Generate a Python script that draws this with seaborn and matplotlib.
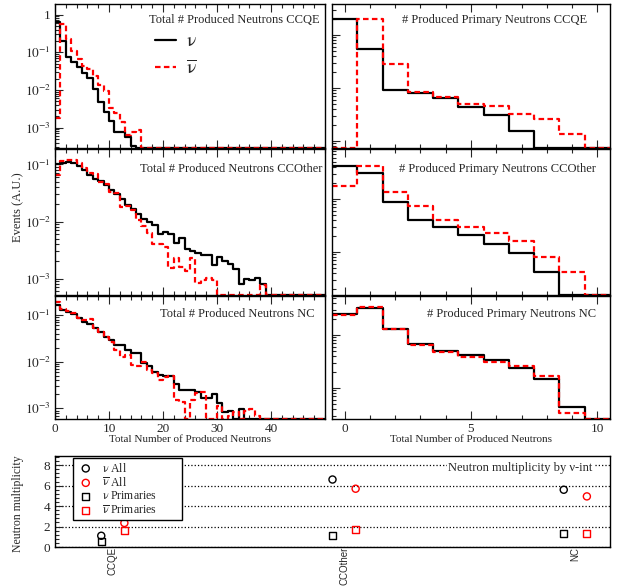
import matplotlib

matplotlib.use("Agg")
import matplotlib.pyplot as plt
import numpy as np
import pandas as pd
import seaborn as sns
from matplotlib.lines import Line2D
from matplotlib.ticker import FuncFormatter, LogLocator, MultipleLocator, NullFormatter

# total number of produced neutrons, unit bins from 0 to 50 (fraction of events)
total_ccqe_nu = [0.63, 0.20, 0.075, 0.055, 0.040, 0.028, 0.0205, 0.0106, 0.0047, 0.0026,
                 0.0015, 7.5e-4, 7.5e-4, 5.7e-4, 3.3e-4] + [0] * 35
total_ccqe_nubar = [0.0018, 0.55, 0.225, 0.11, 0.068, 0.042, 0.036, 0.023, 0.0136, 0.0093,
                    0.0034, 0.0024, 0.00145, 6.5e-4, 7.7e-4, 8.4e-4] + [0] * 34
total_ccother_nu = [0.103, 0.108, 0.110, 0.108, 0.093, 0.081, 0.065, 0.0564, 0.051, 0.043,
                    0.035, 0.030, 0.025, 0.0192, 0.0168, 0.0137, 0.0112, 0.0098, 0.0086, 0.0060,
                    0.0066, 0.0060, 0.0042, 0.0052, 0.0033, 0.0031, 0.0028, 0.0026, 0.0026, 0.0017,
                    0.0024, 0.0020, 0.0018, 0.00149, 8.1e-4, 1.0e-3, 9.3e-4, 1.03e-3, 7.9e-4] + [0] * 11
total_ccother_nubar = [0.065, 0.115, 0.118, 0.121, 0.106, 0.088, 0.071, 0.069, 0.049, 0.046,
                       0.033, 0.031, 0.018, 0.0185, 0.0158, 0.0105, 0.0083, 0.0062, 0.0040, 0.0040,
                       0.0036, 0.0015, 0.0023, 0.0016, 0.00134, 0.0023, 8.5e-4, 9.6e-4, 1.03e-3, 9.6e-4,
                       0, 0, 0, 0, 0, 0, 0, 0, 7.6e-4] + [0] * 11
total_nc_nu = [0.164, 0.128, 0.114, 0.103, 0.088, 0.072, 0.064, 0.052, 0.043, 0.034,
               0.029, 0.023, 0.023, 0.0178, 0.0151, 0.0151, 0.0092, 0.0079, 0.0061, 0.0052,
               0.0050, 0.0050, 0.0033, 0.0025, 0.0025, 0.0025, 0.0022, 0.0017, 0.0017, 0.0020,
               0.00132, 8.5e-4, 8.9e-4, 0, 9.5e-4] + [0] * 15
total_nc_nubar = [0.187, 0.134, 0.122, 0.109, 0.088, 0.078, 0.082, 0.052, 0.043, 0.034,
                  0.027, 0.018, 0.0128, 0.0139, 0.0085, 0.0082, 0.0100, 0.0066, 0.0056, 0.0041,
                  0.0048, 0.0050, 0.0015, 0.0014, 0, 0.0015, 0.0021, 0.0022, 0, 0,
                  0.0011, 0, 7e-4, 8.5e-4, 0, 9e-4, 9.5e-4, 7e-4] + [0] * 12

# primary neutrons, integer bins 0..10
prim_ccqe_nu = [2.0, 0.54, 0.092, 0.082, 0.066, 0.043, 0.031, 0.0155, 0, 0, 0]
prim_ccqe_nubar = [0, 2.0, 0.28, 0.085, 0.069, 0.051, 0.046, 0.033, 0.0256, 0.0134, 0]
prim_ccother_nu = [0.42, 0.314, 0.087, 0.040, 0.029, 0.021, 0.0142, 0.0094, 0.0041, 0, 0]
prim_ccother_nubar = [0.179, 0.42, 0.134, 0.075, 0.040, 0.030, 0.0232, 0.0162, 0.0079, 0.0041, 0]
prim_nc_nu = [0.249, 0.328, 0.130, 0.068, 0.050, 0.042, 0.034, 0.024, 0.0146, 0.0043, 0]
prim_nc_nubar = [0.238, 0.333, 0.128, 0.065, 0.048, 0.039, 0.031, 0.026, 0.0171, 0.0034, 0]

# mean multiplicities per interaction mode
int_modes = ["CCQE", "CCOther", "NC"]
mean_all_nu = [1.1, 6.6, 5.6]
mean_all_nubar = [2.35, 5.7, 4.95]
mean_prim_nu = [0.58, 1.1, 1.35]
mean_prim_nubar = [1.6, 1.7, 1.35]

sns.set_style("ticks")
plt.rcParams["font.family"] = ["Liberation Serif", "DejaVu Serif"]
plt.rcParams["mathtext.fontset"] = "stix"
plt.rcParams["axes.edgecolor"] = "black"
plt.rcParams["axes.linewidth"] = 1.0

W, H = 623, 588
fig = plt.figure(figsize=(W / 100, H / 100), dpi=100)

NU_LBL = r"$\mathrm{\nu}$"
NUBAR_LBL = r"$\overline{\mathrm{\nu}}$"
DASH = (0, (2.5, 1.5))


def px_axes(x0, y0, x1, y1):
    return fig.add_axes([x0 / W, 1 - y1 / H, (x1 - x0) / W, (y1 - y0) / H])


def decade_label(v, pos):
    k = int(round(np.log10(v)))
    return "1" if k == 0 else rf"$10^{{{k}}}$"


def draw_hist(ax, edges, nu, nubar, ylim, title, title_xy, show_ylabels, ticks, minor):
    centers = 0.5 * (edges[:-1] + edges[1:])
    for vals, color, ls in ((nu, "black", "-"), (nubar, "red", DASH)):
        # empty bins drawn on the floor of the log axis, as ROOT does
        df = pd.DataFrame({"n": centers, "w": np.clip(np.asarray(vals, float), ylim[0], None)})
        sns.histplot(data=df, x="n", weights="w", bins=list(edges), element="step", fill=False,
                     color=color, linestyle=ls, linewidth=1.6, ax=ax)
    ax.set_yscale("log")
    ax.set_xlim(edges[0], edges[-1])
    ax.set_ylim(*ylim)
    ax.set_xlabel("")
    ax.set_ylabel("")
    ax.set_xticks(ticks)
    ax.xaxis.set_minor_locator(MultipleLocator(minor))
    ax.yaxis.set_major_locator(LogLocator(base=10))
    ax.yaxis.set_minor_locator(LogLocator(base=10, subs=np.arange(2, 10)))
    ax.yaxis.set_major_formatter(FuncFormatter(decade_label))
    ax.yaxis.set_minor_formatter(NullFormatter())
    ax.tick_params(which="both", direction="in", top=True, labelsize=9.5, pad=3)
    ax.tick_params(which="major", length=6, width=0.8)
    ax.tick_params(which="minor", length=3, width=0.8)
    if not show_ylabels:
        ax.tick_params(labelleft=False)
    ax.text(title_xy[0], title_xy[1], title, transform=ax.transAxes, ha="right",
            va="center", fontsize=9)


edges_total = np.arange(0, 51)
edges_prim = np.arange(-0.5, 11.0)

rows = [
    (4, 148, "CCQE", total_ccqe_nu, total_ccqe_nubar, prim_ccqe_nu, prim_ccqe_nubar,
     (2.88e-4, 1.9), (0.00738, 3.85), 0.889),
    (149, 295, "CCOther", total_ccother_nu, total_ccother_nubar, prim_ccother_nu,
     prim_ccother_nubar, (5.14e-4, 0.187), (0.00154, 0.878), 0.863),
    (296, 419, "NC", total_nc_nu, total_nc_nubar, prim_nc_nu, prim_nc_nubar,
     (5.93e-4, 0.255), (0.0026, 0.544), 0.85),
]
left_title_x = [0.981, 0.989, 0.963]
right_title_x = [0.917, 0.95, 0.95]

axes_left = []
for i, (y0, y1, mode, t_nu, t_nubar, p_nu, p_nubar, ylim_t, ylim_p, ty) in enumerate(rows):
    ax_l = px_axes(55, y0, 325, y1)
    draw_hist(ax_l, edges_total, t_nu, t_nubar, ylim_t, f"Total # Produced Neutrons {mode}",
              (left_title_x[i], ty), True, [0, 10, 20, 30, 40], 2)
    ax_r = px_axes(332, y0, 610, y1)
    draw_hist(ax_r, edges_prim, p_nu, p_nubar, ylim_p, f"# Produced Primary Neutrons {mode}",
              (right_title_x[i], ty), False, [0, 5, 10], 1)
    if i < 2:
        ax_l.tick_params(labelbottom=False)
        ax_r.tick_params(labelbottom=False)
    axes_left.append(ax_l)

handles = [Line2D([], [], color="black", lw=1.6),
           Line2D([], [], color="red", lw=1.6, linestyle=DASH)]
axes_left[0].legend(handles, [NU_LBL, NUBAR_LBL], loc="upper left", bbox_to_anchor=(0.37, 0.80),
                    frameon=False, fontsize=14, handlelength=1.1, handletextpad=0.5,
                    labelspacing=0.45, borderaxespad=0, borderpad=0)

fig.text(190 / W, 1 - 439 / H, "Total Number of Produced Neutrons", ha="center", va="center",
         fontsize=8)
fig.text(471 / W, 1 - 439 / H, "Total Number of Produced Neutrons", ha="center", va="center",
         fontsize=8)
fig.text(18 / W, 1 - 207 / H, "Events (A.U.)", rotation=90, ha="center", va="center", fontsize=9)

# bottom summary panel
ax = px_axes(55, 456, 610, 547)
pos = np.arange(len(int_modes))
series = [
    (pos, mean_all_nu, "o", "black", NU_LBL + " All"),
    (pos + 0.1, mean_all_nubar, "o", "red", NUBAR_LBL + " All"),
    (pos, mean_prim_nu, "s", "black", NU_LBL + " Primaries"),
    (pos + 0.1, mean_prim_nubar, "s", "red", NUBAR_LBL + " Primaries"),
]
for x, y, m, c, lab in series:
    sns.scatterplot(x=x, y=y, marker=m, s=26, facecolor="none", edgecolor=c, linewidth=1,
                    ax=ax, label=lab, zorder=3)
ax.set_xlim(-0.2, 2.2)
ax.set_ylim(0, 8.9)
ax.yaxis.set_major_locator(MultipleLocator(2))
ax.yaxis.set_minor_locator(MultipleLocator(0.4))
ax.set_xticks(pos + 0.05)
ax.set_xticklabels(int_modes, rotation=90, fontsize=7, family="Liberation Sans")
ax.tick_params(axis="x", length=0, pad=0)
ax.tick_params(axis="y", which="both", direction="in", labelsize=9.5)
ax.tick_params(axis="y", which="major", length=6, width=0.8)
ax.tick_params(axis="y", which="minor", length=3, width=0.8)
ax.grid(axis="y", linestyle=":", color="black", linewidth=0.9)
ax.set_xlabel("")
ax.set_ylabel("")
ax.legend(loc="upper left", bbox_to_anchor=(0.032, 0.0, 0.196, 0.978), mode="expand",
          frameon=True, fancybox=False, edgecolor="black", framealpha=1, fontsize=8.5,
          borderaxespad=0, handletextpad=0.6, labelspacing=0.12, borderpad=0.3,
          handlelength=1.6)
ax.text(0.969, 0.868, "Neutron multiplicity by ν-int", transform=ax.transAxes, ha="right",
        va="center", fontsize=9, bbox=dict(facecolor="white", edgecolor="none", pad=1))
fig.text(18 / W, 1 - 504 / H, "Neutron multiplicity", rotation=90, ha="center", va="center",
         fontsize=8.5)

fig.savefig("out.png", dpi=100)
